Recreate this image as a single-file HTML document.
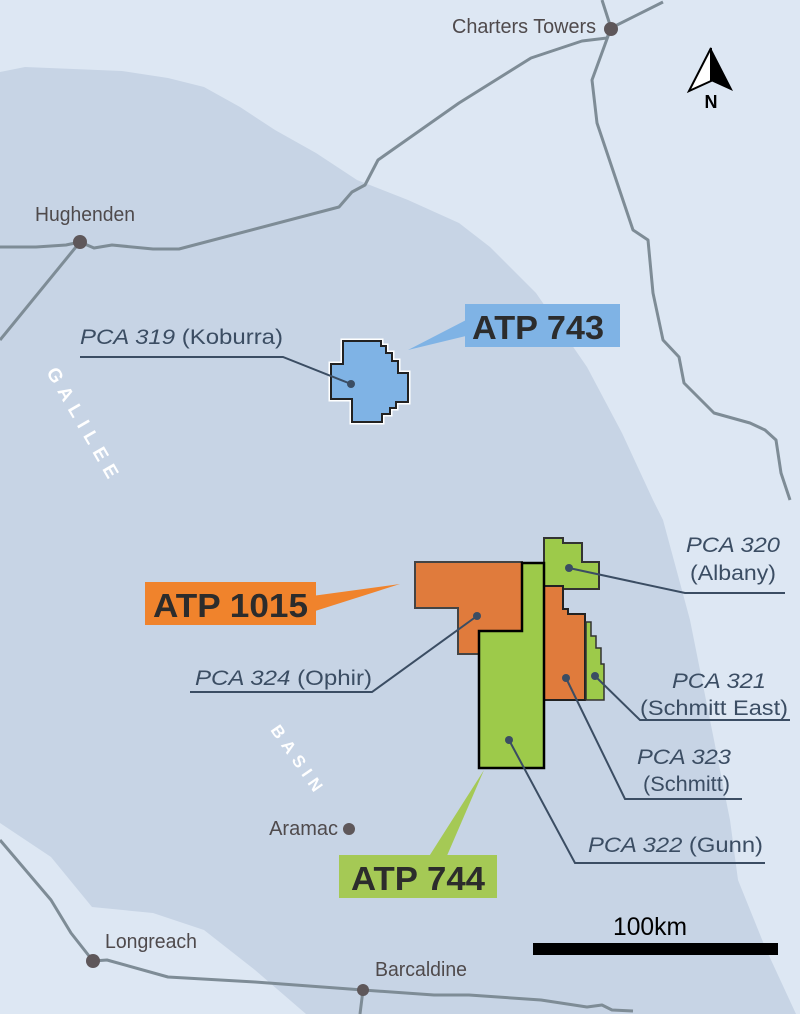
<!DOCTYPE html>
<html><head><meta charset="utf-8"><style>
html,body{margin:0;padding:0;background:#dde7f3;}
svg{display:block;}
text{font-family:"Liberation Sans",sans-serif;}
</style></head><body>
<svg width="800" height="1014" viewBox="0 0 800 1014" xmlns="http://www.w3.org/2000/svg">
<rect width="800" height="1014" fill="#dde7f3"/>
<path d="M0,72 L25,67 L122,71 L168,78 L204,87 L240,107 L275,130 L316,153 L357,180 L408,200 L459,223 L490,247 L536,293 L587,367 L622,433 L653,500 L663,520 L690,620 L710,720 L730,820 L738,880 L765,947 L796,1014 L306,1014 L255,970 L204,930 L153,913 L92,907 L51,857 L0,823 Z" fill="#c7d4e5"/>
<g fill="none" stroke="#7e8c96" stroke-width="3" stroke-linejoin="round">
<polyline points="0,247 36,247 66,245 80,242 94,248 112,245 153,249 179,249 339,207 352,192 365,185 378,160 459,103 531,58 582,41 607,38 611,28 663,2"/>
<polyline points="80,242 0,340"/>
<polyline points="602,0 611,28 592,80 597,123 633,230 648,240 653,293 663,340 679,357 684,383 714,413 750,423 765,430 776,440 781,473 790,500"/>
<polyline points="0,840 51,900 71,933 93,961 107,960 168,977 255,982 363,990 434,995 469,995 541,1000 587,1007 602,1005 612,1010 633,1011"/>
<polyline points="363,990 360,1014"/>
</g>
<g fill="#5e575a">
<circle cx="611" cy="29" r="7"/><circle cx="80" cy="242" r="7"/><circle cx="93" cy="961" r="7"/><circle cx="363" cy="990" r="6"/><circle cx="349" cy="829" r="6"/>
</g>
<g fill="#4f4a4c" font-size="20">
<text x="452" y="33" textLength="144" lengthAdjust="spacingAndGlyphs">Charters Towers</text>
<text x="35" y="221" textLength="100" lengthAdjust="spacingAndGlyphs">Hughenden</text>
<text x="338" y="835" text-anchor="end">Aramac</text>
<text x="105" y="948" textLength="92" lengthAdjust="spacingAndGlyphs">Longreach</text>
<text x="375" y="976" textLength="92" lengthAdjust="spacingAndGlyphs">Barcaldine</text>
</g>
<g transform="translate(711,48)">
<path d="M0,0 L-22,43 L0,33 Z" fill="#fff" stroke="#000" stroke-width="2"/>
<path d="M0,0 L22,43 L0,33 Z" fill="#000"/>
<text x="0" y="60" text-anchor="middle" font-size="18" font-weight="bold" fill="#000">N</text>
</g>
<text transform="translate(46,372) rotate(60)" fill="#fff" font-size="19" font-weight="bold" letter-spacing="7">GALILEE</text>
<text transform="translate(270,730) rotate(55)" fill="#fff" font-size="17" font-weight="bold" letter-spacing="6">BASIN</text>
<polygon points="343,341 381,341 381,346 386,346 386,353 392,353 392,361 398,361 398,373 408,373 408,402 396,402 396,408 390,408 390,414 382,414 382,422 352,422 352,399 331,399 331,364 343,364" fill="none" stroke="#fff" stroke-width="5"/>
<polygon points="343,341 381,341 381,346 386,346 386,353 392,353 392,361 398,361 398,373 408,373 408,402 396,402 396,408 390,408 390,414 382,414 382,422 352,422 352,399 331,399 331,364 343,364" fill="#7fb3e5" stroke="#222" stroke-width="2"/>
<polygon points="415,562 522,562 522,631 479,631 479,654 458,654 458,608 415,608" fill="#e07b3c" stroke="#444" stroke-width="2"/>
<polygon points="544,538 563,538 563,543 582,543 582,562 599,562 599,589 544,589" fill="#9dca4a" stroke="#333" stroke-width="2"/>
<polygon points="544,586 563,586 563,609 568,609 568,614 585,614 585,700 544,700" fill="#e07b3c" stroke="#222" stroke-width="2"/>
<polygon points="586,622 591,622 591,636 596,636 596,648 601,648 601,664 604,664 604,700 586,700" fill="#9dca4a" stroke="#333" stroke-width="1.5"/>
<polygon points="479,631 522,631 522,563 544,563 544,768 479,768" fill="#9dca4a" stroke="#000" stroke-width="2.5"/>
<polygon points="408,350 470,318 470,335" fill="#7fb3e5"/>
<rect x="465" y="304" width="155" height="43" fill="#7fb3e5"/>
<text x="472" y="339" font-size="33" font-weight="bold" fill="#2c2c2c" textLength="132" lengthAdjust="spacingAndGlyphs">ATP 743</text>
<polygon points="400,584 312,596 312,612" fill="#f0832c"/>
<rect x="145" y="582" width="171" height="43" fill="#f0832c"/>
<text x="153" y="617" font-size="33" font-weight="bold" fill="#2c2c2c" textLength="155" lengthAdjust="spacingAndGlyphs">ATP 1015</text>
<polygon points="484,770 428,858 446,858" fill="#a5c955"/>
<rect x="339" y="855" width="158" height="43" fill="#a5c955"/>
<text x="351" y="890" font-size="33" font-weight="bold" fill="#2c2c2c" textLength="134" lengthAdjust="spacingAndGlyphs">ATP 744</text>
<g stroke="#3b4d63" stroke-width="2" fill="none">
<polyline points="80,357 283,357 351,384"/>
<polyline points="190,692 372,692 477,616"/>
<polyline points="569,568 685,593 785,593"/>
<polyline points="595,676 640,720 790,720"/>
<polyline points="566,678 625,799 742,799"/>
<polyline points="509,740 575,863 765,863"/>
</g>
<g fill="#3b4d63">
<circle cx="351" cy="384" r="4"/><circle cx="477" cy="616" r="4"/><circle cx="569" cy="568" r="4"/><circle cx="595" cy="676" r="4"/><circle cx="566" cy="678" r="4"/><circle cx="509" cy="740" r="4"/>
</g>
<g fill="#3b4d63" font-size="21">
<text x="80" y="344" textLength="203" lengthAdjust="spacingAndGlyphs"><tspan font-style="italic">PCA 319</tspan> (Koburra)</text>
<text x="195" y="685" textLength="177" lengthAdjust="spacingAndGlyphs"><tspan font-style="italic">PCA 324</tspan> (Ophir)</text>
<text x="686" y="552" font-style="italic" textLength="94" lengthAdjust="spacingAndGlyphs">PCA 320</text>
<text x="690" y="580" textLength="86" lengthAdjust="spacingAndGlyphs">(Albany)</text>
<text x="672" y="688" font-style="italic" textLength="94" lengthAdjust="spacingAndGlyphs">PCA 321</text>
<text x="640" y="715" textLength="148" lengthAdjust="spacingAndGlyphs">(Schmitt East)</text>
<text x="637" y="764" font-style="italic" textLength="94" lengthAdjust="spacingAndGlyphs">PCA 323</text>
<text x="643" y="791" textLength="87" lengthAdjust="spacingAndGlyphs">(Schmitt)</text>
<text x="588" y="852" textLength="175" lengthAdjust="spacingAndGlyphs"><tspan font-style="italic">PCA 322</tspan> (Gunn)</text>
</g>
<rect x="533" y="943" width="245" height="12" fill="#000"/>
<text x="613" y="935" font-size="25" fill="#000" textLength="74" lengthAdjust="spacingAndGlyphs">100km</text>
</svg>
</body></html>
